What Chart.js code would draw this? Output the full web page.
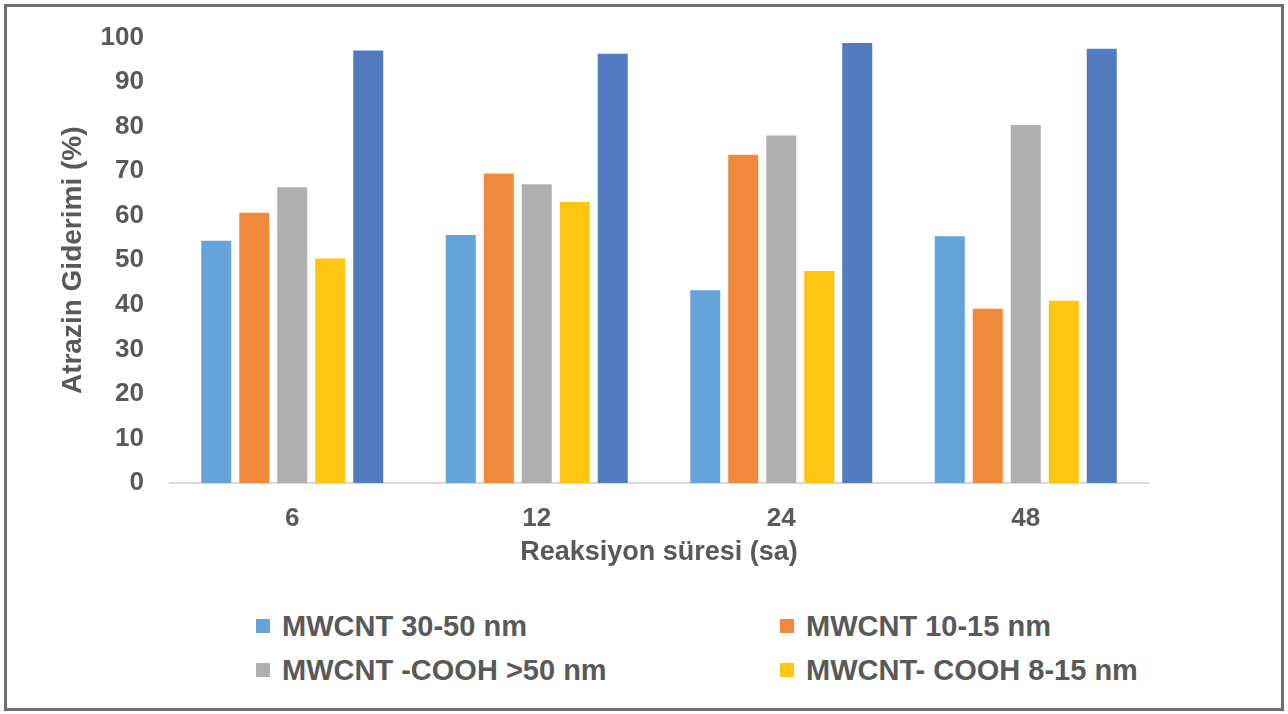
<!DOCTYPE html>
<html>
<head>
<meta charset="utf-8">
<script src="https://cdn.jsdelivr.net/npm/chart.js@4"></script>
<style>
  html, body { margin: 0; padding: 0; background: #fff; }
  body { width: 1288px; height: 714px; position: relative; overflow: hidden; }
  #chart { position: absolute; left: 0; top: -4px; }
  #frame {
    position: absolute; left: 4px; top: 4px; width: 1280px; height: 707px;
    box-sizing: border-box; border: 3px solid #6e6e6e; pointer-events: none;
  }
  .legend-item {
    position: absolute; display: flex; align-items: center;
    font: bold 29px "Liberation Sans", Arial, sans-serif; color: #595959;
    white-space: nowrap;
  }
  .legend-item span.box { width: 14px; height: 14px; margin-right: 12px; display: inline-block; }
</style>
</head>
<body>
<canvas id="chart" width="1288" height="573"></canvas>
<div id="legend"></div>
<div id="frame"></div>
<script>
// categories (reaction time, hours)
const categories = ["6", "12", "24", "48"];

// removal (%) per series
const mwcnt3050 = [54.4, 55.7, 43.3, 55.4];
const mwcnt1015 = [60.7, 69.5, 73.7, 39.1];
const cooh50 = [66.4, 67.1, 78.0, 80.4];
const cooh815 = [50.4, 63.1, 47.6, 40.9];
const fifthSeries = [97.1, 96.4, 98.8, 97.5];

const seriesNames = ["MWCNT 30-50 nm", "MWCNT 10-15 nm", "MWCNT -COOH >50 nm", "MWCNT- COOH 8-15 nm", ""];
const seriesColors = ["#66a3d9", "#f0893b", "#aeafae", "#fec611", "#527cbf"];
const seriesValues = [mwcnt3050, mwcnt1015, cooh50, cooh815, fifthSeries];

const textColor = "#595959";
const fontFamily = '"Liberation Sans", Arial, sans-serif';

const datasets = seriesValues.map((vals, i) => ({
  label: seriesNames[i],
  data: vals,
  backgroundColor: seriesColors[i],
  borderWidth: 0,
  categoryPercentage: 0.777,
  barPercentage: 0.79,
}));

const ctx = document.getElementById("chart").getContext("2d");
new Chart(ctx, {
  type: "bar",
  data: { labels: categories, datasets: datasets },
  options: {
    responsive: false,
    animation: false,
    layout: { padding: { left: 0, right: 140, top: 19, bottom: 0 } },
    plugins: {
      legend: { display: false },
      tooltip: { enabled: false },
    },
    scales: {
      x: {
        grid: { display: false, drawTicks: false },
        border: { display: true, color: "#d9d9d9", width: 2 },
        ticks: { color: textColor, padding: 20, font: { family: fontFamily, size: 26, weight: "bold" } },
        title: {
          display: true,
          text: "Reaksiyon süresi (sa)",
          color: textColor,
          padding: { top: 0, bottom: 0 },
          font: { family: fontFamily, size: 27, weight: "bold" },
        },
        afterFit: (scale) => { scale.height = 86; },
      },
      y: {
        min: 0,
        max: 100,
        grid: { display: false, drawTicks: false },
        border: { display: false },
        ticks: { stepSize: 10, color: textColor, padding: 26, font: { family: fontFamily, size: 26, weight: "bold" } },
        title: {
          display: true,
          text: "Atrazin Giderimi (%)",
          color: textColor,
          padding: { top: 56, bottom: 0 },
          font: { family: fontFamily, size: 28, weight: "bold" },
        },
        afterFit: (scale) => { scale.width = 170; },
      },
    },
  },
});

// legend: two columns, the fifth series has no entry
const legend = document.getElementById("legend");
const legendLeft = [256, 780];
const legendTop = [609, 653];
for (let i = 0; i < 4; i++) {
  const item = document.createElement("div");
  item.className = "legend-item";
  item.style.left = legendLeft[i % 2] + "px";
  item.style.top = legendTop[Math.floor(i / 2)] + "px";
  item.style.height = "34px";
  const box = document.createElement("span");
  box.className = "box";
  box.style.background = seriesColors[i];
  item.appendChild(box);
  item.appendChild(document.createTextNode(seriesNames[i]));
  legend.appendChild(item);
}
</script>
</body>
</html>
